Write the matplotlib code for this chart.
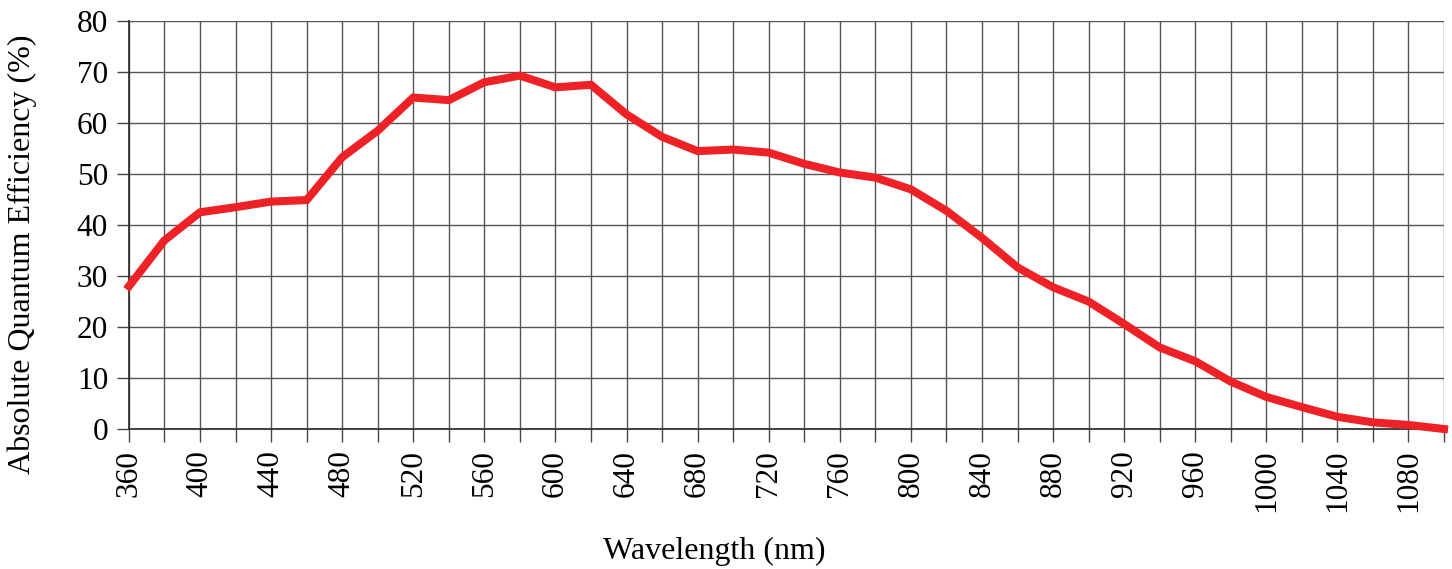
import matplotlib
matplotlib.use("Agg")
import matplotlib.pyplot as plt

wavelength = [360, 380, 400, 420, 440, 460, 480, 500, 520, 540, 560, 580, 600, 620,
              640, 660, 680, 700, 720, 740, 760, 780, 800, 820, 840, 860, 880, 900,
              920, 940, 960, 980, 1000, 1020, 1040, 1060, 1080, 1100]
qe = [28.0, 37.0, 42.5, 43.5, 44.6, 44.9, 53.3, 58.5, 65.0, 64.5, 68.0, 69.3, 67.0, 67.5,
      61.7, 57.3, 54.5, 54.8, 54.2, 52.0, 50.3, 49.3, 47.0, 42.8, 37.5, 31.7, 27.8, 25.0,
      20.6, 16.0, 13.3, 9.3, 6.3, 4.3, 2.4, 1.3, 0.8, 0.0]

x_ticks = list(range(360, 1101, 20))
x_labels = [str(v) if (v - 360) % 40 == 0 and v < 1100 else "" for v in x_ticks]
y_ticks = list(range(0, 81, 10))

plt.rcParams["font.family"] = ["Liberation Serif", "DejaVu Serif"]

fig = plt.figure(figsize=(14.52, 5.69), dpi=100)
ax = fig.add_axes([0.0888, 0.246, 0.9057, 0.717])

ax.plot(wavelength, qe, color="#ee2126", lw=5.8, solid_joinstyle="miter", zorder=3, clip_on=False)

ax.set_xlim(360, 1100)
ax.set_ylim(0, 80)
ax.set_xticks(x_ticks)
ax.set_xticklabels(x_labels, rotation=90, fontsize=22.5)
ax.set_yticks(y_ticks)
ax.set_yticklabels([str(v) for v in y_ticks], fontsize=22.5)
ax.tick_params(axis="both", length=9, width=1.0, color="#444444", pad=6)
ax.grid(True, color="#555555", lw=1.0)
for side in ["top", "right"]:
    ax.spines[side].set_visible(False)
for side in ["left", "bottom"]:
    ax.spines[side].set_color("#333333")
    ax.spines[side].set_linewidth(1.3)

fig.text(0.4917, 0.0316, "Wavelength (nm)", fontsize=23, ha="center", va="center")
fig.text(0.0152, 0.553, "Absolute Quantum Efficiency (%)", fontsize=23,
         ha="center", va="center", rotation=90)

fig.savefig("out.png", dpi=100)
